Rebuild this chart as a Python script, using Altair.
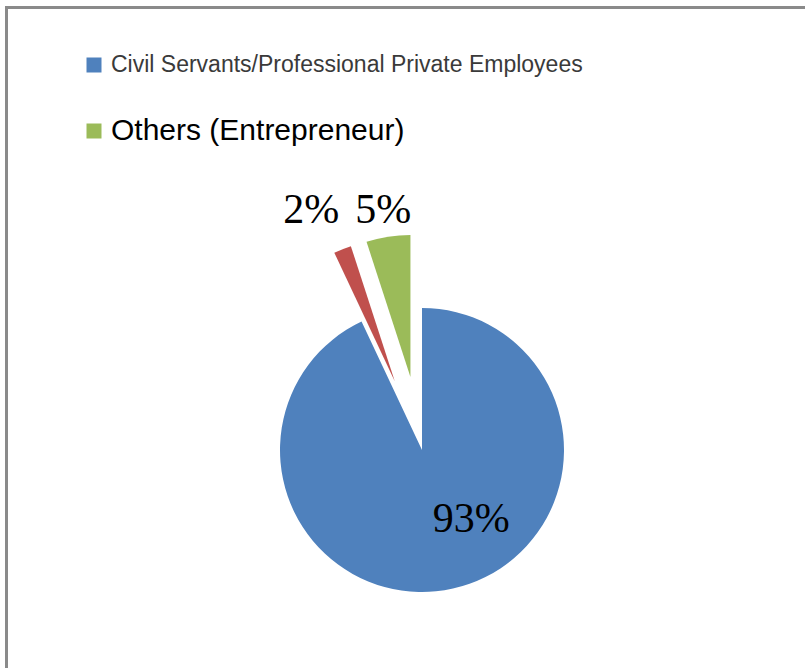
import altair as alt
import pandas as pd

# ---- data ----
categories = [
    "Civil Servants/Professional Private Employees",
    "Other",
    "Others (Entrepreneur)",
]
values = [93, 2, 5]
slice_labels = ["93%", "2%", "5%"]
legend_items = [
    "Civil Servants/Professional Private Employees",
    "Others (Entrepreneur)",
]
colors = ["#4F81BD", "#C0504D", "#9BBB59"]

# ---- layout / style ----
W, H = 805, 668
CX, CY, R = 422, 450, 142
explode = [0, 74, 74]               # px, radial pull-out per slice
label_radius = [85, 264, 243]       # px from pie centre
label_angle = [144.6, -24.8, -9.2]  # degrees clockwise from 12 o'clock
total = sum(values)

df = pd.DataFrame({
    "cat": categories,
    "value": values,
    "label": slice_labels,
    "order": list(range(len(categories))),
    "ex": explode,
    "lr": label_radius,
    "la": label_angle,
})

base = (
    alt.Chart(df)
    .transform_window(c1="sum(value)", sort=[{"field": "order"}], frame=[None, 0])
    .transform_calculate(c0="datum.c1 - datum.value")
    .transform_calculate(mid=f"PI * (datum.c0 + datum.c1) / {total}")
    .transform_calculate(
        cx=f"{CX} + datum.ex * sin(datum.mid)",
        cy=f"{CY} - datum.ex * cos(datum.mid)",
        lx=f"{CX} + datum.lr * sin(datum.la * PI / 180)",
        ly=f"{CY} - datum.lr * cos(datum.la * PI / 180)",
    )
)

color_scale = alt.Scale(domain=categories, range=colors)

arcs = base.mark_arc(radius=R).encode(
    theta=alt.Theta("c0:Q", scale=alt.Scale(domain=[0, total])),
    theta2="c1:Q",
    x=alt.X("cx:Q", scale=None),
    y=alt.Y("cy:Q", scale=None),
    color=alt.Color("cat:N", scale=color_scale, legend=None),
)

labels = base.mark_text(
    font="Liberation Serif", fontSize=42, color="#000000",
    align="center", baseline="middle",
).encode(
    x=alt.X("lx:Q", scale=None),
    y=alt.Y("ly:Q", scale=None),
    text="label:N",
)

leg_df = pd.DataFrame({"item": legend_items})
leg_y = alt.Scale(type="point", domain=legend_items, range=[65, 131], padding=0)

leg_sq = alt.Chart(leg_df).mark_square(size=225, opacity=1).encode(
    x=alt.value(94),
    y=alt.Y("item:N", scale=leg_y, axis=None),
    color=alt.Color("item:N", scale=color_scale, legend=None),
)

leg_txt = alt.Chart(leg_df).mark_text(
    font="Liberation Sans", align="left", baseline="middle",
).encode(
    x=alt.value(111),
    y=alt.Y("item:N", scale=leg_y, axis=None),
    text="item:N",
    size=alt.Size("item:O", scale=alt.Scale(domain=legend_items, range=[23, 30]), legend=None),
    color=alt.condition(alt.datum.item == legend_items[0], alt.value("#3a3a3a"), alt.value("#000000")),
)

frame = alt.Chart(pd.DataFrame({"f": [0]})).mark_rect(
    fill="transparent", stroke="#8a8a8a", strokeWidth=3,
).encode(
    x=alt.value(6.5), y=alt.value(7.5), x2=alt.value(W + 50), y2=alt.value(H + 50),
)

chart = (
    alt.layer(frame, arcs, labels, leg_sq, leg_txt)
    .resolve_scale(x="independent", y="independent", size="independent")
    .properties(width=W, height=H, autosize=alt.AutoSizeParams(type="none"), padding=0)
    .configure_view(strokeWidth=0)
)

chart.save("out.html", embed_options={"renderer": "svg", "actions": False})
